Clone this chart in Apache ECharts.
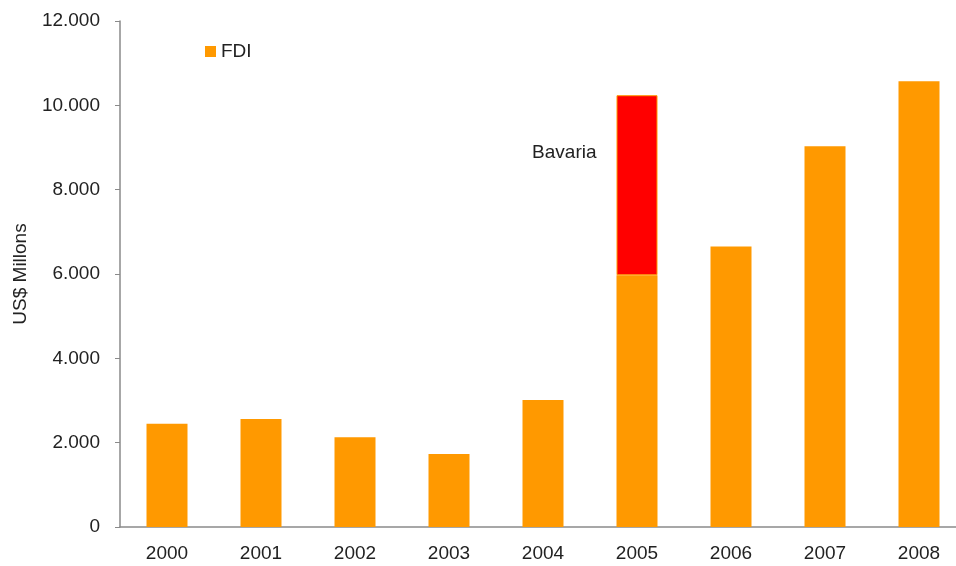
<!DOCTYPE html>
<html><head><meta charset="utf-8">
<script src="https://cdn.jsdelivr.net/npm/echarts@6/dist/echarts.min.js"></script>
<style>html,body{margin:0;padding:0;background:#fff;overflow:hidden}#c{width:966px;height:566px}</style>
</head><body><div id="c"></div>
<script>
const years = ['2000','2001','2002','2003','2004','2005','2006','2007','2008'];
const fdi = [2450, 2560, 2130, 1730, 3010, 5970, 6650, 9030, 10570];
const bavaria = [null, null, null, null, null, 4270, null, null, null];
const yTicks = [0, 2000, 4000, 6000, 8000, 10000, 12000];

const chart = echarts.init(document.getElementById('c'));
const font = 'Liberation Sans, Arial, sans-serif';
const fs = 19;
chart.setOption({
  animation: false,
  textStyle: {fontFamily: font},
  legend: {
    data: ['FDI'], left: 200, top: 37, icon: 'rect', itemWidth: 11, itemHeight: 11,
    textStyle: {fontFamily: font, fontSize: fs, color: '#222'}
  },
  grid: {left: 120, top: 21, right: 0, bottom: 39, containLabel: false},
  xAxis: {
    type: 'category', data: years,
    axisLine: {lineStyle: {color: '#8a8a8a', width: 1.5}},
    axisTick: {length: 5, lineStyle: {color: '#8a8a8a'}},
    axisLabel: {fontFamily: font, fontSize: fs, color: '#222', margin: 17}
  },
  yAxis: {
    type: 'value', min: yTicks[0], max: yTicks[yTicks.length-1], interval: 2000,
    name: 'US$ Millons', nameLocation: 'middle', nameGap: 90,
    nameTextStyle: {fontFamily: font, fontSize: fs, color: '#222'},
    axisLine: {show: true, lineStyle: {color: '#8a8a8a', width: 1.5}},
    axisTick: {show: true, length: 5, lineStyle: {color: '#8a8a8a'}},
    splitLine: {show: false},
    axisLabel: {fontFamily: font, fontSize: fs, color: '#222', margin: 20,
      formatter: v => v === 0 ? '0' : (v/1000).toFixed(3)}
  },
  series: [
    {name: 'FDI', type: 'bar', stack: 't', data: fdi, barWidth: 41,
     itemStyle: {color: '#FF9900'}},
    {name: 'Bavaria', type: 'bar', stack: 't', data: bavaria, barWidth: 41,
     itemStyle: {color: '#FF0000', borderColor: '#FF9900', borderWidth: 1},
     label: {show: true, position: 'left', distance: 20, offset: [0, -32],
       formatter: 'Bavaria', fontFamily: font, fontSize: fs, color: '#222'}}
  ]
});
</script></body></html>
